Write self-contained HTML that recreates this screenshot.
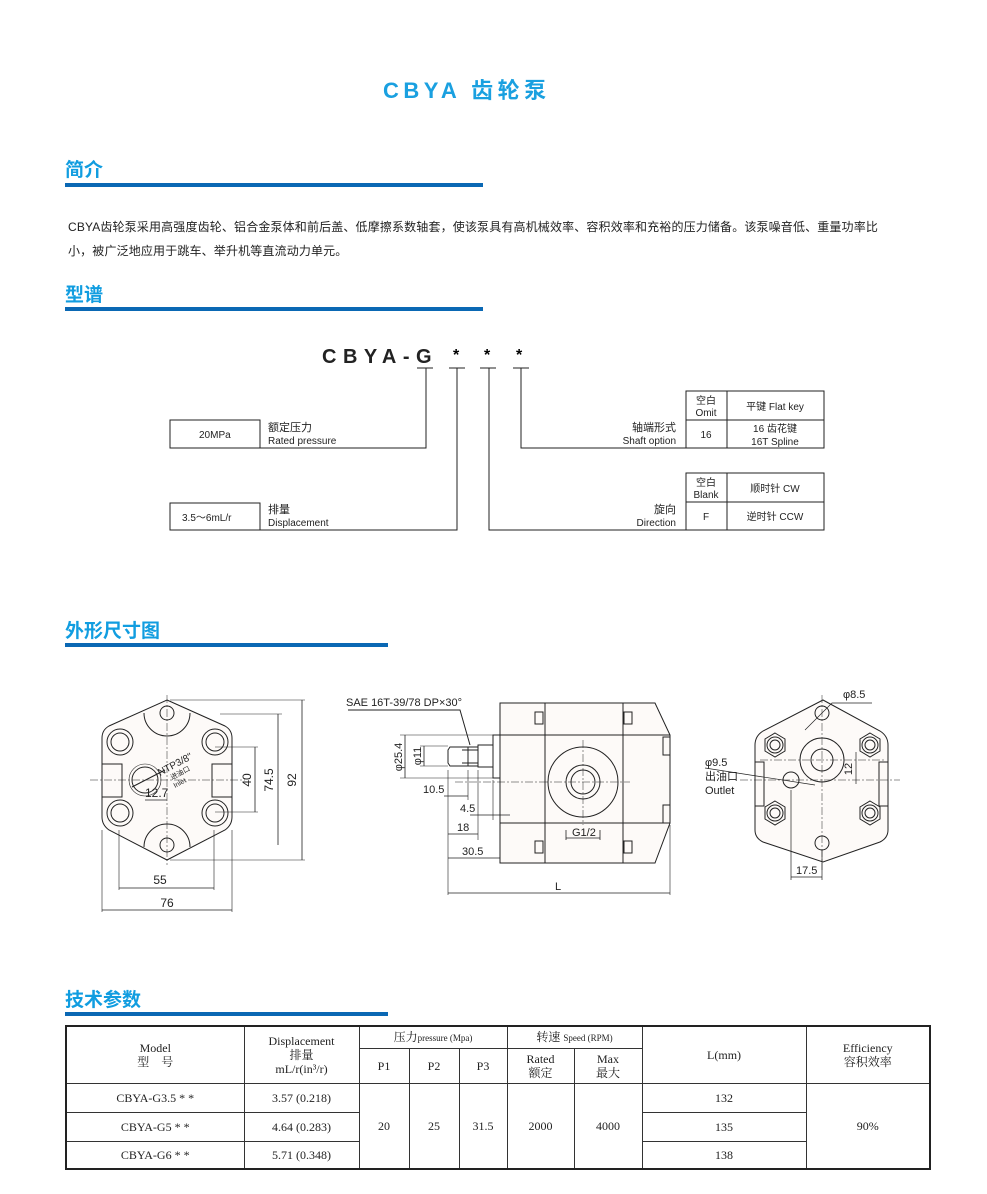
<!DOCTYPE html>
<html><head><meta charset="utf-8">
<style>
body{margin:0;background:#fff;}
#p{position:relative;width:987px;height:1194px;overflow:hidden;font-family:"Liberation Sans","Noto Sans CJK SC",sans-serif;color:#222;}
.a{position:absolute;white-space:nowrap;}
.h{position:absolute;left:65px;font-size:19px;font-weight:bold;color:#119de0;font-family:"Noto Sans CJK SC",sans-serif;}
.bar{position:absolute;left:65px;height:4px;background:#0a68b4;}
table{border-collapse:collapse;table-layout:fixed;font-family:"Liberation Serif","Noto Serif CJK SC",serif;font-size:12px;}
td{border:1px solid #333;text-align:center;padding:0;line-height:14px;}
</style></head><body><div id="p">
<div class="a" style="left:383px;top:73px;font-size:22px;font-weight:bold;color:#1aa0e0;letter-spacing:4.5px;font-family:'Liberation Sans','Noto Sans CJK SC',sans-serif;">CBYA 齿轮泵</div>

<div class="h" style="top:155px;">简介</div><div class="bar" style="top:183px;width:418px;"></div>
<div class="a" style="left:68px;top:218px;font-size:12px;letter-spacing:0.15px;">CBYA齿轮泵采用高强度齿轮、铝合金泵体和前后盖、低摩擦系数轴套，使该泵具有高机械效率、容积效率和充裕的压力储备。该泵噪音低、重量功率比</div>
<div class="a" style="left:68px;top:242px;font-size:12px;letter-spacing:0.15px;">小，被广泛地应用于跳车、举升机等直流动力单元。</div>

<div class="h" style="top:280px;">型谱</div><div class="bar" style="top:307px;width:418px;"></div>

<svg class="a" style="left:0;top:0" width="987" height="1194" viewBox="0 0 987 1194" font-family="Liberation Sans, Noto Sans CJK SC, sans-serif">
<g fill="none" stroke="#222" stroke-width="1">
<path d="M417 368h16M449 368h16M480 368h16M513 368h16"/>
<path d="M426 368V448H260M457 368V530H260M489 368V530H686M521 368V448H686"/>
<rect x="170" y="420" width="90" height="28"/><rect x="170" y="503" width="90" height="27"/>
<rect x="686" y="391" width="138" height="57"/><path d="M686 420h138M727 391v57"/>
<rect x="686" y="473" width="138" height="57"/><path d="M686 502h138M727 473v57"/>
</g>
<text x="322" y="363" font-size="20" font-weight="bold" letter-spacing="6.5" fill="#222">CBYA-G</text>
<text x="453" y="360" font-size="16" font-weight="bold">*</text><text x="484" y="360" font-size="16" font-weight="bold">*</text><text x="516" y="360" font-size="16" font-weight="bold">*</text>
<g font-size="10" fill="#222">
<text x="199" y="438">20MPa</text><text x="182" y="521">3.5～6mL/r</text>
<text x="268" y="431" font-size="11">额定压力</text><text x="268" y="444">Rated pressure</text>
<text x="268" y="513" font-size="11">排量</text><text x="268" y="526">Displacement</text>
<text x="676" y="431" font-size="11" text-anchor="end">轴端形式</text><text x="676" y="444" text-anchor="end">Shaft option</text>
<text x="676" y="513" font-size="11" text-anchor="end">旋向</text><text x="676" y="526" text-anchor="end">Direction</text>
<text x="706" y="404" text-anchor="middle">空白</text><text x="706" y="416" text-anchor="middle">Omit</text>
<text x="775" y="410" text-anchor="middle">平键 Flat key</text>
<text x="706" y="438" text-anchor="middle">16</text>
<text x="775" y="432" text-anchor="middle">16 齿花键</text><text x="775" y="445" text-anchor="middle">16T Spline</text>
<text x="706" y="486" text-anchor="middle">空白</text><text x="706" y="498" text-anchor="middle">Blank</text>
<text x="775" y="492" text-anchor="middle">顺时针 CW</text>
<text x="706" y="520" text-anchor="middle">F</text><text x="775" y="520" text-anchor="middle">逆时针 CCW</text>
</g>

<!-- LEFT VIEW -->
<g fill="none" stroke="#222" stroke-width="1">
<path d="M167 700L225 726Q232 730 232 738V817Q232 825 225 830L167 860L109 830Q102 825 102 817V738Q102 730 109 726Z" fill="#fdfaf8"/>
<path d="M144 713A23 23 0 0 0 190 713M144 847A23 23 0 0 1 190 847"/>
<circle cx="167" cy="713" r="7"/><circle cx="167" cy="845" r="7"/>
<path d="M102 764h20v33h-20M232 764h-20v33h20"/>
<circle cx="120" cy="742" r="13"/><circle cx="120" cy="742" r="9"/>
<circle cx="215" cy="742" r="13"/><circle cx="215" cy="742" r="9"/>
<circle cx="120" cy="813" r="13"/><circle cx="120" cy="813" r="9"/>
<circle cx="215" cy="813" r="13"/><circle cx="215" cy="813" r="9"/>
<circle cx="145" cy="780" r="13"/><circle cx="145" cy="780" r="16" stroke-width="0.6"/>
<path d="M170 700H305M220 714H282M215 747H258M215 812H258M170 860H305" stroke-width="0.6"/>
<path d="M302 700V860M278 714V845M255 747V812" stroke-width="0.8"/>
<path d="M119 830V890M214 830V890M102 830V912M232 830V912" stroke-width="0.6"/>
<path d="M119 888H214M102 910H232M145 800H167" stroke-width="0.8"/>
<path d="M167 695V865M90 780H245" stroke-width="0.5" stroke-dasharray="8 2 2 2"/>
<path d="M132 787L165 770"/>
</g>
<g font-size="11" fill="#222">
<text x="160" y="884" font-size="12" text-anchor="middle">55</text>
<text x="167" y="907" font-size="12" text-anchor="middle">76</text>
<text x="145" y="797" font-size="12">12.7</text>
<text transform="translate(296 780) rotate(-90)" font-size="12" text-anchor="middle">92</text>
<text transform="translate(273 780) rotate(-90)" font-size="12" text-anchor="middle">74.5</text>
<text transform="translate(251 780) rotate(-90)" font-size="12" text-anchor="middle">40</text>
<text transform="translate(160 776) rotate(-28)" font-size="10">NTP3/8"</text>
<text transform="translate(172 780) rotate(-28)" font-size="7">进油口</text>
<text transform="translate(175 788) rotate(-28)" font-size="7">Inlet</text>
</g>

<!-- MIDDLE VIEW -->
<g fill="none" stroke="#222" stroke-width="1">
<path d="M500 703H655L670 735V823L655 863H500Z" fill="#fdfaf8"/>
<path d="M545 703V863M623 703V863M500 735H670M500 823H670"/>
<rect x="535" y="712" width="8" height="12"/><rect x="624" y="712" width="8" height="12"/>
<rect x="535" y="841" width="8" height="12"/><rect x="624" y="841" width="8" height="12"/>
<rect x="663" y="737" width="7" height="18"/><rect x="663" y="805" width="7" height="18"/>
<circle cx="583" cy="782" r="35"/><circle cx="583" cy="782" r="17"/><circle cx="583" cy="782" r="12"/>
<rect x="493" y="735" width="7" height="43"/>
<rect x="478" y="745" width="15" height="22"/>
<path d="M478 747H450L448 750V763L450 766H478M468 747V766M462 750H478M462 763H478"/>
<path d="M348 710H460L470 745"/>
<path d="M400 735H500M400 778H500M420 746H448M420 766H448" stroke-width="0.6"/>
<path d="M405 735V778M424 746V766" stroke-width="0.8"/>
<path d="M448 770V895M468 770V800M478 770V840M493 780V820M670 825V895" stroke-width="0.6"/>
<path d="M444 796H468M470 815H510M448 834H478M448 858H500M448 893H670M566 830V840M600 830V840M566 838H600" stroke-width="0.8"/>
<path d="M455 782H540M583 740V825M540 782H630" stroke-width="0.5" stroke-dasharray="8 2 2 2"/>
</g>
<g font-size="11" fill="#222">
<text x="346" y="706" font-size="11">SAE 16T-39/78 DP×30°</text>
<text transform="translate(402 757) rotate(-90)" text-anchor="middle">φ25.4</text>
<text transform="translate(421 756) rotate(-90)" text-anchor="middle">φ11</text>
<text x="423" y="793">10.5</text><text x="460" y="812">4.5</text><text x="457" y="831">18</text>
<text x="462" y="855">30.5</text><text x="572" y="836">G1/2</text><text x="555" y="890">L</text>
</g>

<!-- RIGHT VIEW -->
<g fill="none" stroke="#222" stroke-width="1">
<path d="M823 700L880 731Q888 736 888 745V830Q888 838 880 842L823 862L763 842Q755 838 755 830V745Q755 736 763 731Z" fill="#fdfaf8"/>
<path d="M755 762h9v44h-9M888 762h-9v44h9"/>
<circle cx="822" cy="760" r="22"/><circle cx="822" cy="760" r="11"/>
<circle cx="822" cy="713" r="7"/><circle cx="822" cy="843" r="7"/><circle cx="791" cy="780" r="8"/>
<g>
<path d="M775 733l10 6v12l-10 6l-10-6v-12z"/><circle cx="775" cy="745" r="8"/><circle cx="775" cy="745" r="5"/>
<path d="M870 733l10 6v12l-10 6l-10-6v-12z"/><circle cx="870" cy="745" r="8"/><circle cx="870" cy="745" r="5"/>
<path d="M775 801l10 6v12l-10 6l-10-6v-12z"/><circle cx="775" cy="813" r="8"/><circle cx="775" cy="813" r="5"/>
<path d="M870 801l10 6v12l-10 6l-10-6v-12z"/><circle cx="870" cy="813" r="8"/><circle cx="870" cy="813" r="5"/>
</g>
<path d="M805 730L832 703H872M705 768L815 785M856 752V784M791 790V880M822 850V880M791 877H822" stroke-width="0.7"/>
<path d="M822 695V870M760 760H885M740 780H900" stroke-width="0.5" stroke-dasharray="8 2 2 2"/>
</g>
<g font-size="11" fill="#222">
<text x="843" y="698">φ8.5</text>
<text x="705" y="766">φ9.5</text><text x="705" y="780">出油口</text><text x="705" y="794">Outlet</text>
<text transform="translate(852 769) rotate(-90)" text-anchor="middle">12</text>
<text x="796" y="874">17.5</text>
</g>
</svg>

<div class="h" style="top:616px;">外形尺寸图</div><div class="bar" style="top:643px;width:323px;"></div>
<div class="h" style="top:985px;">技术参数</div><div class="bar" style="top:1012px;width:323px;"></div>

<table class="a" style="left:65px;top:1025px;width:864px;border:2px solid #222;">
<colgroup><col style="width:178px"><col style="width:115px"><col style="width:50px"><col style="width:50px"><col style="width:48px"><col style="width:67px"><col style="width:68px"><col style="width:164px"><col style="width:124px"></colgroup>
<tr style="height:22px"><td rowspan="2">Model<br>型　号</td><td rowspan="2">Displacement<br>排量<br>mL/r(in³/r)</td><td colspan="3">压力<span style="font-size:9px">pressure (Mpa)</span></td><td colspan="2">转速 <span style="font-size:9px">Speed (RPM)</span></td><td rowspan="2">L(mm)</td><td rowspan="2">Efficiency<br>容积效率</td></tr>
<tr style="height:35px"><td>P1</td><td>P2</td><td>P3</td><td>Rated<br>额定</td><td>Max<br>最大</td></tr>
<tr style="height:29px"><td>CBYA-G3.5 * *</td><td>3.57 (0.218)</td><td rowspan="3">20</td><td rowspan="3">25</td><td rowspan="3">31.5</td><td rowspan="3">2000</td><td rowspan="3">4000</td><td>132</td><td rowspan="3">90%</td></tr>
<tr style="height:29px"><td>CBYA-G5 * *</td><td>4.64 (0.283)</td><td>135</td></tr>
<tr style="height:28px"><td>CBYA-G6 * *</td><td>5.71 (0.348)</td><td>138</td></tr>
</table>
</div></body></html>
